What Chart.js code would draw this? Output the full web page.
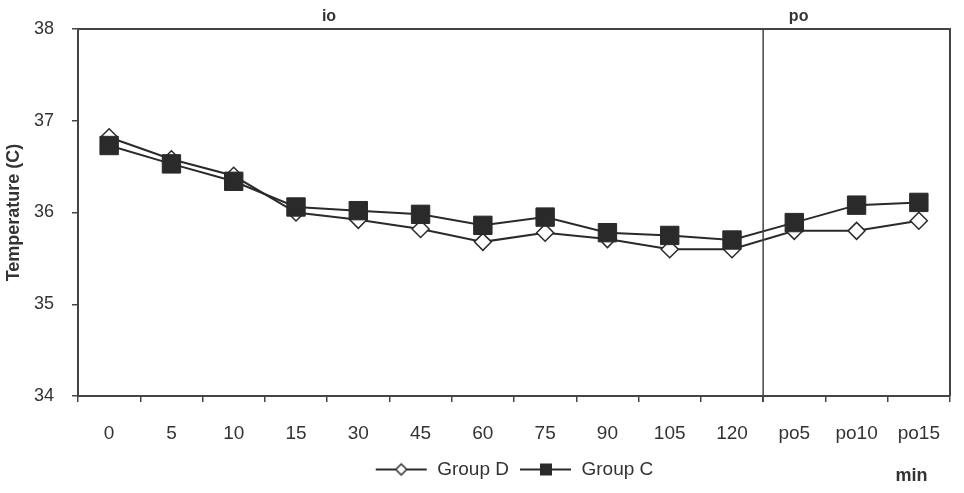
<!DOCTYPE html>
<html>
<head>
<meta charset="utf-8">
<script src="https://cdn.jsdelivr.net/npm/chart.js@4/dist/chart.umd.min.js"></script>
<style>
html,body{margin:0;padding:0;background:#fff;}
#wrap{width:964px;height:493px;position:relative;}
</style>
</head>
<body>
<div id="wrap"><canvas id="c" width="964" height="493"></canvas></div>
<script>
const categories = ['0','5','10','15','30','45','60','75','90','105','120','po5','po10','po15'];
const groupD = [36.82,36.58,36.40,36.00,35.92,35.82,35.68,35.78,35.71,35.60,35.60,35.80,35.80,35.91];
const groupC = [36.73,36.53,36.34,36.06,36.02,35.98,35.86,35.95,35.78,35.75,35.70,35.89,36.08,36.11];
const yTicks = [34,35,36,37,38];
const seriesNames = ['Group D','Group C'];
const phaseLabels = ['io','po'];
const unitLabel = 'min';

const INK = '#2a2a2a';
const TXT = '#333333';
const SANS = '"Liberation Sans",Arial,sans-serif';

function legendIcon(style){
  const cv = document.createElement('canvas');
  cv.width = 53; cv.height = 18;
  const g = cv.getContext('2d');
  g.strokeStyle = INK; g.lineWidth = 2;
  g.beginPath(); g.moveTo(1,9); g.lineTo(52,9); g.stroke();
  if(style==='diamond'){
    g.fillStyle='#fff'; g.lineWidth=1.5;
    g.beginPath(); g.moveTo(26.5,3.5); g.lineTo(32,9); g.lineTo(26.5,14.5); g.lineTo(21,9); g.closePath();
    g.fill(); g.stroke();
  } else {
    g.fillStyle=INK; g.fillRect(21,3,12,12);
  }
  return cv;
}
const iconD = legendIcon('diamond');
const iconC = legendIcon('square');

const decor = {
  id:'decor',
  afterDraw(chart){
    const {ctx, chartArea:a, scales:{x}} = chart;
    ctx.save();
    ctx.strokeStyle = '#444'; ctx.lineWidth = 2;
    ctx.beginPath();
    ctx.moveTo(a.left, a.top); ctx.lineTo(a.right, a.top); ctx.lineTo(a.right, a.bottom);
    ctx.stroke();
    const sepX = (x.getPixelForValue(10) + x.getPixelForValue(11)) / 2;
    ctx.lineWidth = 1.5;
    ctx.beginPath(); ctx.moveTo(sepX, a.top); ctx.lineTo(sepX, a.bottom + 6); ctx.stroke();
    ctx.fillStyle = TXT;
    ctx.font = 'bold 16px ' + SANS;
    ctx.textAlign = 'center'; ctx.textBaseline = 'middle';
    ctx.fillText(phaseLabels[0], x.getPixelForValue(3.53), 17);
    ctx.fillText(phaseLabels[1], x.getPixelForValue(11.07), 17);
    ctx.font = 'bold 18px ' + SANS;
    ctx.fillText(unitLabel, x.getPixelForValue(12.88), 476);
    ctx.restore();
  }
};

new Chart(document.getElementById('c'), {
  type:'line',
  data:{
    labels: categories,
    datasets:[
      {label:seriesNames[0], data:groupD, order:1, borderColor:INK, borderWidth:2, backgroundColor:'#fff',
       pointStyle:'rectRot', pointRadius:8.5, pointBorderWidth:1.5, pointBorderColor:INK, pointBackgroundColor:'#fff', tension:0},
      {label:seriesNames[1], data:groupC, order:0, borderColor:INK, borderWidth:2, backgroundColor:INK,
       pointStyle:'rect', pointRadius:13, pointBorderWidth:1, pointBorderColor:INK, pointBackgroundColor:INK, tension:0}
    ]
  },
  options:{
    responsive:false, animation:false,
    layout:{padding:{top:29, right:8, left:3, bottom:4}},
    plugins:{
      tooltip:{enabled:false},
      legend:{
        position:'bottom', fullSize:false,
        labels:{
          usePointStyle:true, pointStyleWidth:53, boxHeight:16,
          color:TXT, font:{family:SANS, size:19}, padding:10,
          sort:(a,b)=>a.datasetIndex-b.datasetIndex,
          generateLabels(chart){
            return chart.data.datasets.map((d,i)=>({
              text:d.label, datasetIndex:i, pointStyle: i===0?iconD:iconC,
              fillStyle:INK, strokeStyle:INK, lineWidth:0, hidden:false, fontColor:TXT
            }));
          }
        }
      }
    },
    scales:{
      x:{
        offset:true,
        grid:{offset:true, drawOnChartArea:false, tickLength:6, color:'#444', lineWidth:1.5},
        border:{display:true, color:'#444', width:2},
        ticks:{color:TXT, font:{family:SANS, size:19}, padding:20, maxRotation:0, autoSkip:false},
        afterFit(s){ s.height = 54; }
      },
      y:{
        min:34, max:38,
        afterBuildTicks(s){ s.ticks = yTicks.map(v=>({value:v})); },
        grid:{drawOnChartArea:false, tickLength:6, color:'#444', lineWidth:1.5},
        border:{display:true, color:'#444', width:2},
        ticks:{color:TXT, font:{family:SANS, size:18}, padding:18},
        title:{display:true, text:'Temperature (C)', color:TXT, font:{family:SANS, size:18, weight:'bold'}, padding:{top:0,bottom:0}},
        afterFit(s){ s.width = 75; }
      }
    }
  },
  plugins:[decor]
});
</script>
</body>
</html>
